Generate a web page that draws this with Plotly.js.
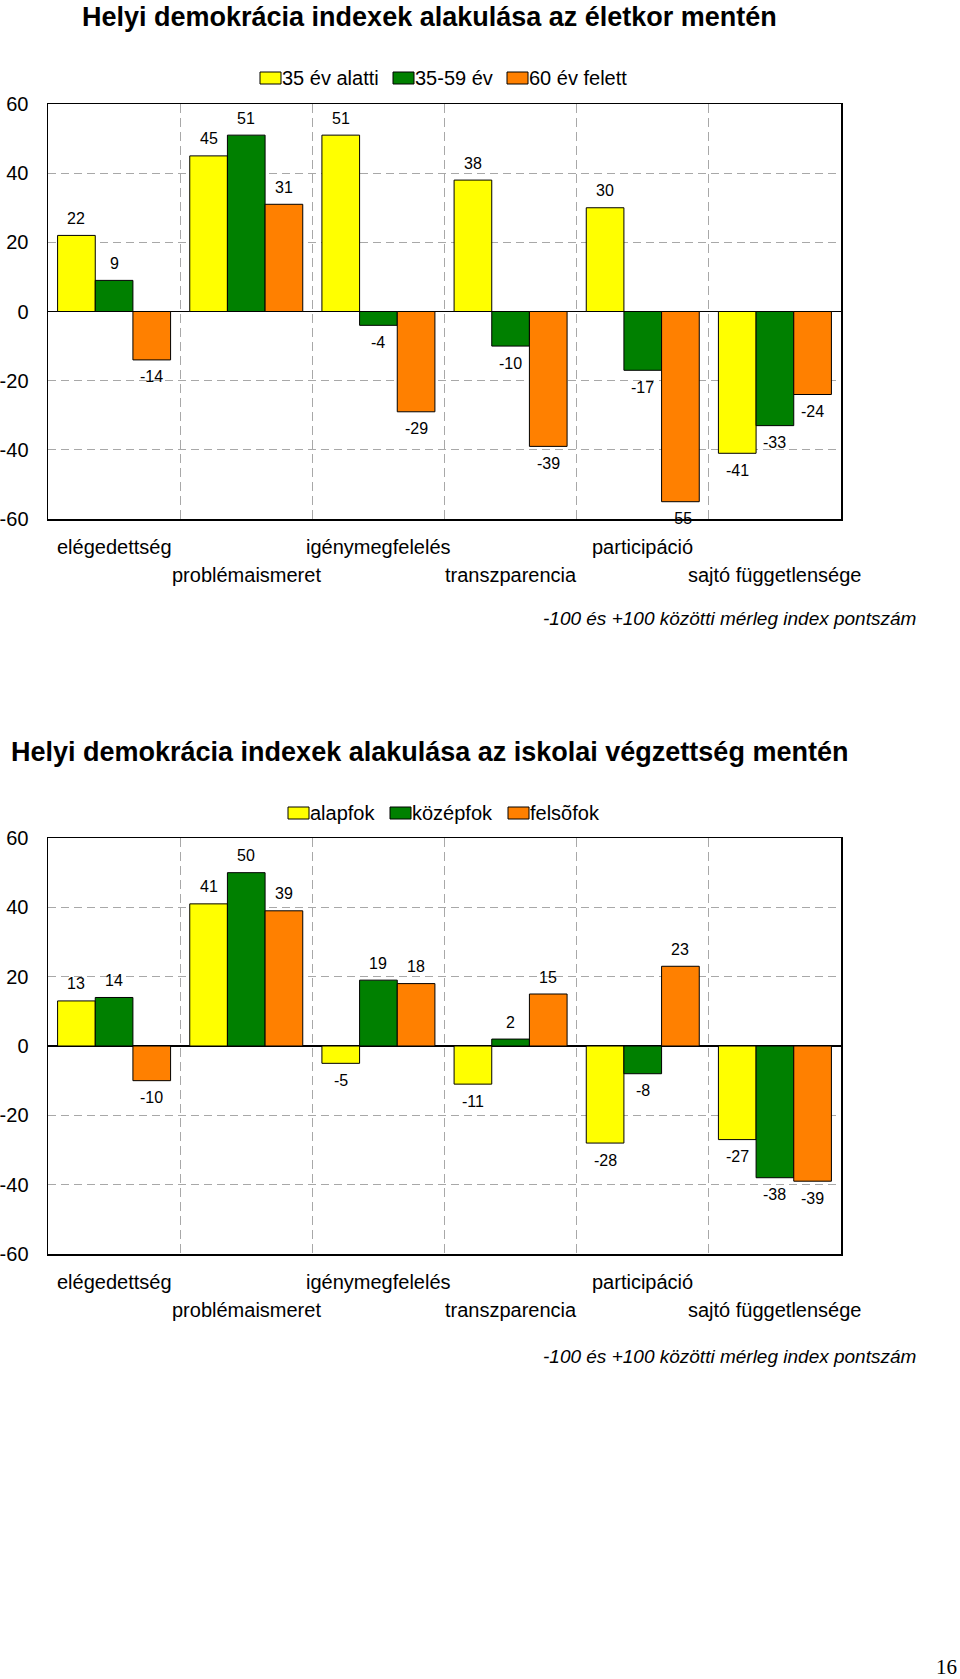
<!DOCTYPE html>
<html>
<head>
<meta charset="utf-8">
<script src="https://cdn.plot.ly/plotly-3.0.1.min.js"></script>
<style>
  html, body { margin: 0; padding: 0; background: #fff; }
  #chart { width: 960px; height: 1679px; }
</style>
</head>
<body>
<div id="chart"></div>
<script>
// ---------- DATA ----------
const categories = ['elégedettség', 'problémaismeret', 'igénymegfelelés', 'transzparencia', 'participáció', 'sajtó függetlensége'];

const ageSeriesNames = ['35 év alatti', '35-59 év', '60 év felett'];
const ageUnder35 = [22, 45, 51, 38, 30, -41];
const age35to59 = [9, 51, -4, -10, -17, -33];
const age60plus = [-14, 31, -29, -39, -55, -24];

const eduSeriesNames = ['alapfok', 'középfok', 'felsõfok'];
const eduBasic = [13, 41, -5, -11, -28, -27];
const eduSecondary = [14, 50, 19, 2, -8, -38];
const eduHigher = [-10, 39, 18, 15, 23, -39];

const yTickValues = [-60, -40, -20, 0, 20, 40, 60];
const chartTitles = [
  'Helyi demokrácia indexek alakulása az életkor mentén',
  'Helyi demokrácia indexek alakulása az iskolai végzettség mentén'
];
const footnoteText = '-100 és +100 közötti mérleg index pontszám';
const pageNumber = '16';

// ---------- STYLE / LAYOUT ----------
const W = 960, H = 1679;
const px = x => x / W;
const py = y => 1 - y / H;
const FONT = 'Arial, "Liberation Sans", Helvetica, sans-serif';
const seriesColors = ['#FFFF00', '#008000', '#FF8000'];
const BARGAP = 0.145;
const barW = (1 - BARGAP) / 3;
const offsets = [-barW, 0, barW];

const charts = [
  { names: ageSeriesNames, series: [ageUnder35, age35to59, age60plus],
    top: 104, bottom: 519, titleY: 17, legendY: 78, legendX: [260, 393, 507], footY: 618 },
  { names: eduSeriesNames, series: [eduBasic, eduSecondary, eduHigher],
    top: 838, bottom: 1254, titleY: 752, legendY: 813, legendX: [288, 390, 508], footY: 1356 }
];

const plotLeft = 48, plotRight = 841;

const traces = [];
const annotations = [];
const shapes = [];
const layout = {
  width: W, height: H,
  margin: { l: 0, r: 0, t: 0, b: 0 },
  paper_bgcolor: '#fff', plot_bgcolor: '#fff',
  barmode: 'group', bargap: BARGAP, bargroupgap: 0,
  showlegend: false,
  font: { family: FONT, color: '#000' },
  annotations: annotations,
  shapes: shapes
};

charts.forEach((c, k) => {
  const xa = k === 0 ? 'x' : 'x2';
  const ya = k === 0 ? 'y' : 'y2';
  const xKey = k === 0 ? 'xaxis' : 'xaxis2';
  const yKey = k === 0 ? 'yaxis' : 'yaxis2';

  layout[xKey] = {
    domain: [px(plotLeft), px(plotRight)],
    anchor: ya,
    type: 'category',
    categoryorder: 'array', categoryarray: categories,
    range: [-0.5, categories.length - 0.5],
    autorange: false,
    showticklabels: false,
    tickson: 'boundaries',
    ticks: '',
    showgrid: true, gridcolor: '#a8a8a8', gridwidth: 1, griddash: '9px,5px',
    showline: true, mirror: true, linecolor: '#000', linewidth: 1.5,
    fixedrange: true
  };
  layout[yKey] = {
    domain: [py(c.bottom), py(c.top)],
    anchor: xa,
    range: [-60, 60],
    autorange: false,
    tickvals: yTickValues,
    ticktext: yTickValues.map(String),
    tickfont: { size: 20, family: FONT, color: '#000' },
    ticks: 'outside', ticklen: 14, tickcolor: 'rgba(0,0,0,0)',
    showgrid: true, gridcolor: '#a8a8a8', gridwidth: 1, griddash: '8px,5px',
    zeroline: true, zerolinecolor: '#000', zerolinewidth: 1.5,
    showline: true, mirror: true, linecolor: '#000', linewidth: 1.5,
    fixedrange: true
  };

  c.series.forEach((vals, s) => {
    traces.push({
      type: 'bar', x: categories, y: vals, name: c.names[s],
      xaxis: xa, yaxis: ya,
      marker: { color: seriesColors[s], line: { color: '#000', width: 1 } },
      hoverinfo: 'skip'
    });
    vals.forEach((v, i) => {
      annotations.push({
        xref: xa, yref: ya, x: i + offsets[s], y: v,
        text: String(v), showarrow: false,
        yshift: v >= 0 ? 17 : -17,
        font: { size: 16, family: FONT, color: '#000' }
      });
    });
  });

  // title
  annotations.push({
    xref: 'paper', yref: 'paper', x: px(429), y: py(c.titleY),
    xanchor: 'center', yanchor: 'middle', showarrow: false,
    text: '<b>' + chartTitles[k] + '</b>',
    font: { size: 27, family: FONT, color: '#000' }
  });

  // legend (custom: small rectangles + text)
  c.names.forEach((n, s) => {
    const x0 = c.legendX[s];
    shapes.push({
      type: 'rect', xref: 'paper', yref: 'paper',
      x0: px(x0), x1: px(x0 + 21), y0: py(c.legendY + 6), y1: py(c.legendY - 6),
      fillcolor: seriesColors[s], line: { color: '#000', width: 1 }
    });
    annotations.push({
      xref: 'paper', yref: 'paper', x: px(x0 + 20), y: py(c.legendY),
      xanchor: 'left', yanchor: 'middle', showarrow: false,
      text: n, font: { size: 20, family: FONT, color: '#000' }
    });
  });

  // staggered category labels
  categories.forEach((cat, i) => {
    annotations.push({
      xref: xa, yref: 'paper', x: i,
      y: py(c.bottom + (i % 2 === 0 ? 28 : 56)),
      xanchor: 'center', yanchor: 'middle', showarrow: false,
      text: cat, font: { size: 20, family: FONT, color: '#000' }
    });
  });

  // footnote
  annotations.push({
    xref: 'paper', yref: 'paper', x: px(918), y: py(c.footY),
    xanchor: 'right', yanchor: 'middle', showarrow: false,
    text: '<i>' + footnoteText + '</i>',
    font: { size: 19, family: FONT, color: '#000' }
  });
});

// page number
annotations.push({
  xref: 'paper', yref: 'paper', x: px(959), y: py(1667),
  xanchor: 'right', yanchor: 'middle', showarrow: false,
  text: pageNumber,
  font: { size: 21, family: '"Times New Roman", "Liberation Serif", serif', color: '#000' }
});

Plotly.newPlot('chart', traces, layout, { displayModeBar: false, staticPlot: true });
</script>
</body>
</html>
